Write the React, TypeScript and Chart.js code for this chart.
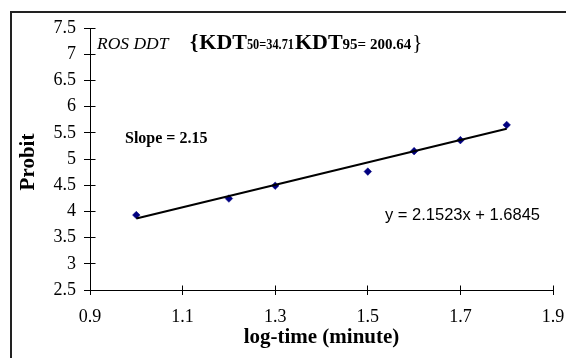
import { useEffect, useRef } from "react";
import { Chart, registerables } from "chart.js";

Chart.register(...registerables);

// ---- data ----
const logTime = [1.0, 1.2, 1.3, 1.5, 1.6, 1.7, 1.8];
const probit = [3.93, 4.245, 4.49, 4.76, 5.15, 5.36, 5.65];
const trendX = [1.0, 1.8];
const trendY = [3.865, 5.578];
const xTickValues = [0.9, 1.1, 1.3, 1.5, 1.7, 1.9];
const xTickLabels = ["0.9", "1.1", "1.3", "1.5", "1.7", "1.9"];
const yTickValues = [2.5, 3, 3.5, 4, 4.5, 5, 5.5, 6, 6.5, 7, 7.5];
const yTickLabels = ["2.5", "3", "3.5", "4", "4.5", "5", "5.5", "6", "6.5", "7", "7.5"];
const titleSpecies = "ROS DDT";
const kdtLabel = "KDT";
const kdt50 = "50=34.71";
const kdt95 = "95= 200.64";
const slopeText = "Slope = 2.15";
const equationText = "y = 2.1523x + 1.6845";
const xTitle = "log-time (minute)";
const yTitle = "Probit";

const SERIF = '"Liberation Serif", "Times New Roman", serif';
const SANS = '"Liberation Sans", Arial, sans-serif';

const overlayPlugin = {
  id: "overlay",
  afterDraw(chart: any) {
    const ctx: CanvasRenderingContext2D = chart.ctx;
    const xs = chart.scales.x;
    const ys = chart.scales.y;
    const area = chart.chartArea;
    ctx.save();
    // inner halves of the crossing tick marks
    ctx.strokeStyle = "#000";
    ctx.lineWidth = 1;
    ctx.beginPath();
    const axisY = Math.floor(area.bottom) + 0.5;
    xs.ticks.forEach((t: any) => {
      const px = Math.floor(xs.getPixelForValue(t.value)) + 0.5;
      ctx.moveTo(px, axisY);
      ctx.lineTo(px, axisY - 5);
    });
    const axisX = Math.floor(area.left) + 0.5;
    ys.ticks.forEach((t: any) => {
      const py = Math.floor(ys.getPixelForValue(t.value)) + 0.5;
      ctx.moveTo(axisX, py);
      ctx.lineTo(axisX + 5, py);
    });
    ctx.stroke();

    ctx.fillStyle = "#000";
    // y-axis title
    ctx.save();
    ctx.font = `bold 21px ${SERIF}`;
    ctx.textAlign = "center";
    ctx.textBaseline = "middle";
    ctx.translate(28.5, (area.top + area.bottom) / 2 + 3);
    ctx.rotate(-Math.PI / 2);
    ctx.fillText(yTitle, 0, 0);
    ctx.restore();

    // title
    ctx.textBaseline = "alphabetic";
    ctx.textAlign = "left";
    const base = 48.5;
    let x = 97;
    ctx.font = `italic 17.5px ${SERIF}`;
    ctx.fillText(titleSpecies, x, base);
    x = 190;
    ctx.font = `bold 21px ${SERIF}`;
    ctx.fillText("{", x, base);
    x += ctx.measureText("{").width + 1;
    ctx.font = `bold 22px ${SERIF}`;
    ctx.fillText(kdtLabel, x, base);
    x += ctx.measureText(kdtLabel).width;
    // condensed subscript run
    ctx.font = `bold 15px ${SERIF}`;
    const w50 = ctx.measureText(kdt50).width;
    const target50 = 47;
    ctx.save();
    ctx.translate(x, base);
    ctx.scale(target50 / w50, 1);
    ctx.fillText(kdt50, 0, 0);
    ctx.restore();
    x += target50 + 1;
    ctx.font = `bold 22px ${SERIF}`;
    ctx.fillText(kdtLabel, x, base);
    x += ctx.measureText(kdtLabel).width;
    ctx.font = `bold 15px ${SERIF}`;
    ctx.fillText(kdt95, x, base);
    x += ctx.measureText(kdt95).width + 1;
    ctx.font = `21px ${SERIF}`;
    ctx.fillText("}", x, base);

    // slope annotation
    ctx.font = `bold 16px ${SERIF}`;
    ctx.fillText(slopeText, 125, 142.5);

    // trendline equation
    ctx.font = `16.5px ${SANS}`;
    ctx.fillText(equationText, 385, 220);
    ctx.restore();
  },
};

export default function App() {
  const canvasRef = useRef<HTMLCanvasElement | null>(null);

  useEffect(() => {
    if (!canvasRef.current) return;
    const chart = new Chart(canvasRef.current, {
      type: "scatter",
      data: {
        datasets: [
          {
            label: "Probit",
            data: logTime.map((v, i) => ({ x: v, y: probit[i] })),
            pointStyle: "rectRot",
            pointRadius: 3.8,
            pointHoverRadius: 3.8,
            backgroundColor: "#000080",
            borderColor: "#000080",
            borderWidth: 0.5,
            showLine: false,
            order: 2,
          },
          {
            label: "Trend",
            type: "line",
            data: trendX.map((v, i) => ({ x: v, y: trendY[i] })),
            borderColor: "#000",
            borderWidth: 2,
            pointRadius: 0,
            showLine: true,
            fill: false,
            order: 1,
          },
        ],
      },
      options: {
        animation: false,
        responsive: false,
        maintainAspectRatio: false,
        devicePixelRatio: 1,
        layout: { padding: { left: 0, right: 13, top: 28, bottom: 0 } },
        plugins: {
          legend: { display: false },
          tooltip: { enabled: false },
          title: { display: false },
        },
        scales: {
          x: {
            type: "linear",
            min: 0.9,
            max: 1.9,
            offset: false,
            afterBuildTicks: (scale: any) => {
              scale.ticks = xTickValues.map((v) => ({ value: v }));
            },
            afterFit: (scale: any) => {
              scale.height = 68;
              scale.paddingLeft = 0;
              scale.paddingRight = 0;
            },
            ticks: {
              color: "#000",
              font: { family: SERIF, size: 18 },
              padding: 11,
              maxRotation: 0,
              autoSkip: false,
              callback: (value: any) => {
                const i = xTickValues.findIndex((v) => Math.abs(v - Number(value)) < 1e-6);
                return i >= 0 ? xTickLabels[i] : "";
              },
            },
            grid: {
              drawOnChartArea: false,
              drawTicks: true,
              tickLength: 5,
              color: "#000",
            },
            border: { display: true, color: "#000", width: 1 },
            title: {
              display: true,
              text: xTitle,
              color: "#000",
              font: { family: SERIF, size: 21, weight: "bold" },
              padding: { top: 0, bottom: 8 },
            },
          },
          y: {
            type: "linear",
            min: 2.5,
            max: 7.5,
            afterBuildTicks: (scale: any) => {
              scale.ticks = yTickValues.map((v) => ({ value: v }));
            },
            afterFit: (scale: any) => {
              scale.width = 90;
              scale.paddingTop = 0;
              scale.paddingBottom = 0;
            },
            ticks: {
              color: "#000",
              font: { family: SERIF, size: 18 },
              padding: 8,
              autoSkip: false,
              callback: (value: any) => {
                const i = yTickValues.findIndex((v) => Math.abs(v - Number(value)) < 1e-6);
                return i >= 0 ? yTickLabels[i] : "";
              },
            },
            grid: {
              drawOnChartArea: false,
              drawTicks: true,
              tickLength: 6,
              color: "#000",
            },
            border: { display: true, color: "#000", width: 1 },
            title: { display: false },
          },
        },
      },
      plugins: [overlayPlugin],
    } as any);
    return () => chart.destroy();
  }, []);

  return (
    <div
      style={{
        position: "fixed",
        left: 0,
        top: 0,
        width: 566,
        height: 358,
        overflow: "hidden",
        background: "#fff",
      }}
    >
      <div
        style={{
          position: "absolute",
          left: 10,
          top: 11,
          width: 620,
          height: 420,
          border: "2px solid #222",
          boxSizing: "border-box",
        }}
      />
      <canvas
        ref={canvasRef}
        width={566}
        height={358}
        style={{ position: "absolute", left: 0, top: 0, width: 566, height: 358 }}
      />
    </div>
  );
}
